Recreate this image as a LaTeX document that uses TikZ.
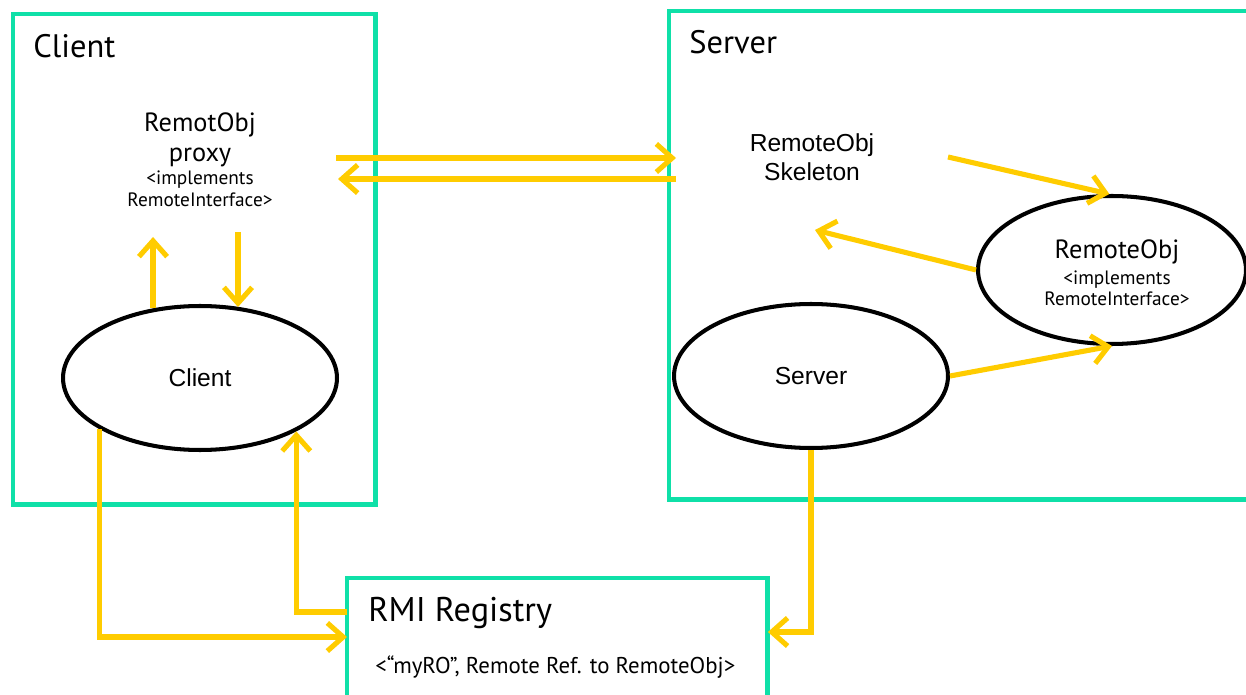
\documentclass[tikz,border=0pt]{standalone}
\usepackage{fontspec}
\setmainfont{Liberation Sans}
\newfontfamily\labelfont{PT Sans}
\usetikzlibrary{arrows.meta, positioning, calc, shapes.geometric}
\definecolor{hostgreen}{HTML}{0FE0A8}
\definecolor{callyellow}{HTML}{FFCC00}

\begin{document}
\begin{tikzpicture}[x=0.02cm, y=-0.02cm,
  host/.style={draw=hostgreen, line width=2.8pt, inner sep=0pt, outer sep=0pt, anchor=north west},
  proc/.style={ellipse, draw=black, line width=2.3pt, fill=white, inner sep=0pt,
    minimum width=5.48cm, minimum height=2.88cm, font=\fontsize{14}{16}\selectfont},
  call/.style={draw=callyellow, line width=2.9pt, -{Straight Barb[length=9pt, width=16pt]}},
  title/.style={anchor=base west, inner sep=0pt, font=\fontsize{18.5}{20}\labelfont},
  objname/.style={anchor=base, font=\fontsize{15}{17}\labelfont},
  objnote/.style={anchor=base, font=\fontsize{11}{13}\labelfont},
  plain/.style={anchor=base, font=\fontsize{14}{16}\selectfont}]
  \useasboundingbox (0,0) rectangle (1246,695);

  % machines and the registry
  \node[host, minimum width=7.26cm, minimum height=9.82cm] (cbox) at (13,14) {};
  \node[host, minimum width=12.7cm, minimum height=9.78cm] (sbox) at (669,11) {};
  \node[host, minimum width=8.42cm, minimum height=3.6cm] (reg) at (347,578) {};

  \node[title] (cliT) at (33,58) {Client};
  \node[title] (srvT) at (689,54) {Server};
  \node[title, font=\fontsize{19.5}{21}\labelfont] (regT) at (368,621) {RMI Registry};
  \node[title, font=\fontsize{13}{15}\labelfont] (regEntry) at (375,673)
    {<“myRO”, Remote Ref. to RemoteObj>};

  % processes
  \node[proc] (cli) at (200,378) {Client};
  \node[proc] (srv) at (811,376) {Server};
  \node[proc, minimum width=5.36cm, minimum height=2.96cm] (ro) at (1112,270) {};

  % proxy on the client side
  \node[objname] (pxName) at (200,132) {RemotObj};
  \node[objname] (pxKind) at (200,162) {proxy};
  \node[objnote] (pxImpl) at (200,185) {<implements};
  \node[objnote] (pxIf) at (200,207) {RemoteInterface>};

  % skeleton on the server side
  \node[plain] (skName) at (812,152) {RemoteObj};
  \node[plain] (skKind) at (812,181) {Skeleton};

  % the remote object itself
  \node[objname] (roName) at (1117,259) {RemoteObj};
  \node[objnote] (roImpl) at (1117,285) {<implements};
  \node[objnote] (roIf) at (1117,306) {RemoteInterface>};

  % loose ends of the calls
  \coordinate (pxOut) at (336,158);
  \coordinate (skIn) at (676,158);
  \coordinate (skOut) at (676,179);
  \coordinate (pxIn) at (338,179);
  \coordinate (pxUp) at (154,237);
  \coordinate (pxDown) at (238,232);
  \coordinate (skCall) at (948,157);
  \coordinate (skBack) at (815,230);

  % calls
  \draw[call] (pxOut) -- (skIn);
  \draw[call] (skOut) -- (pxIn);
  \draw[call] (cli.124) -- (cli.124 |- pxUp);
  \draw[call] (pxDown) -- (pxDown |- cli.61);
  \draw[call] (skCall) -- (ro.92);
  \draw[call] (ro.west) -- (skBack);
  \draw[call] (srv.east) -- (ro.south);
  \draw[call] (cli.207) |- ($(reg.north west)+(0,59)$);
  \draw[call] ($(reg.north west)+(0,34)$) -| (cli.331);
  \draw[call] (srv.south) |- ($(reg.north east)+(0,54)$);
\end{tikzpicture}
\end{document}
